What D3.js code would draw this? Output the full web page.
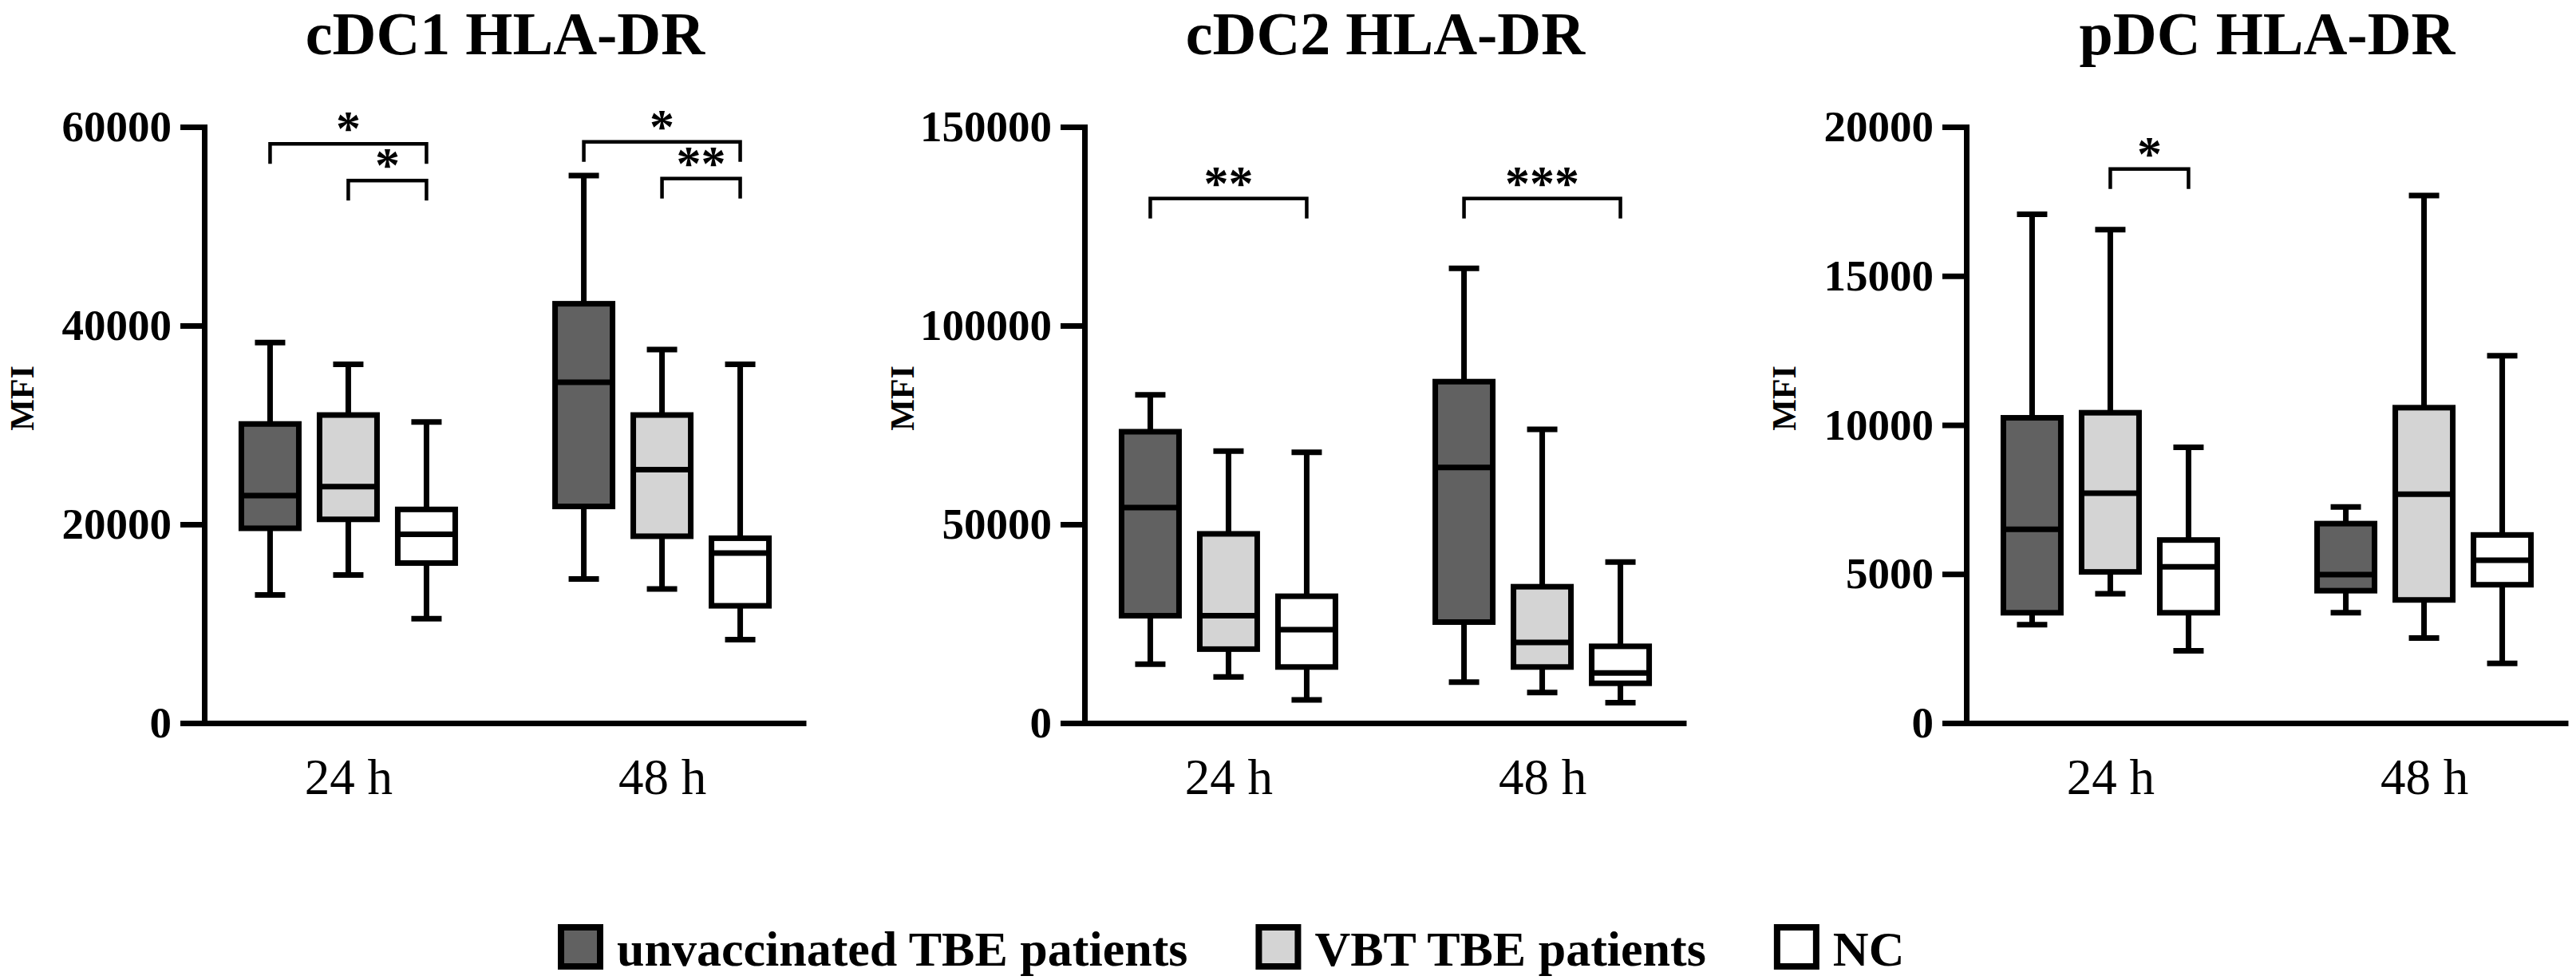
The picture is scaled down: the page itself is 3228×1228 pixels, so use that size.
<!DOCTYPE html>
<html>
<head>
<meta charset="utf-8">
<script src="https://cdn.jsdelivr.net/npm/d3@7"></script>
<style>
	body { margin: 0; background: #fff; }
	svg { display: block; }
</style>
</head>
<body>
<div id="chart"></div>
<script>

// chart data
var panelTitles = ["cDC1 HLA-DR", "cDC2 HLA-DR", "pDC HLA-DR"];
var timepoints = ["24 h", "48 h"];
var groups = ["unvaccinated TBE patients", "VBT TBE patients", "NC"];
var yMaxes = [60000, 150000, 20000];
var yTicks = [
	[0, 20000, 40000, 60000],
	[0, 50000, 100000, 150000],
	[0, 5000, 10000, 15000, 20000]
];

// [min, q1, median, q3, max] per timepoint, per group
var cdc1Stats = [
	[[12900, 19600, 22900, 30100, 38300], [14900, 20500, 23800, 31000, 36100], [10500, 16100, 19000, 21500, 30300]],
	[[14500, 21800, 34300, 42200, 55100], [13500, 18800, 25500, 31000, 37600], [8400, 11800, 17100, 18600, 36100]]
];
var cdc2Stats = [
	[[14800, 27000, 54200, 73300, 82600], [11600, 18600, 27000, 47600, 68400], [5800, 14100, 23500, 31900, 68100]],
	[[10300, 25400, 64300, 85900, 114400], [7700, 14100, 20300, 34300, 73900], [5100, 10000, 12600, 19300, 40500]]
];
var pdcStats = [
	[[3300, 3700, 6500, 10240, 17070], [4340, 5070, 7710, 10410, 16550], [2420, 3700, 5240, 6140, 9250]],
	[[3700, 4440, 4980, 6690, 7250], [2850, 4130, 7680, 10580, 17700], [2000, 4640, 5460, 6310, 12320]]
];
var panelStats = [cdc1Stats, cdc2Stats, pdcStats];

// significance brackets: panel, timepoint, from group, to group, height, label
var brackets = [
	[0, 0, 0, 2, 58300, "*"],
	[0, 0, 1, 2, 54600, "*"],
	[0, 1, 0, 2, 58500, "*"],
	[0, 1, 1, 2, 54800, "**"],
	[1, 0, 0, 2, 132000, "**"],
	[1, 1, 0, 2, 132000, "***"],
	[2, 0, 1, 2, 18590, "*"]
];

var fills = ["#616161", "#d4d4d4", "#ffffff"];
var font = "'Liberation Serif', 'Times New Roman', serif";

var width = 3228, height = 1228;
var axisLefts = [256, 1359, 2464];
var plotWidth = 754;
var yTop = 159, yBottom = 906;
var boxWidth = 72, capWidth = 38, lineW = 7;

var svg = d3.select("#chart").append("svg")
	.attr("width", width)
	.attr("height", height);

panelTitles.forEach(function(title, p){

	var x0 = axisLefts[p];
	var g = svg.append("g");

	var y = d3.scaleLinear()
		.domain([0, yMaxes[p]])
		.range([yBottom, yTop]);

	var x = d3.scalePoint()
		.domain(timepoints)
		.range([x0, x0 + plotWidth])
		.padding(0.459);

	var inner = d3.scalePoint()
		.domain(groups)
		.range([-98, 98]);

	// title
	g.append("text")
		.attr("x", x0 + plotWidth / 2)
		.attr("y", 68)
		.attr("font-family", font)
		.attr("font-weight", "bold")
		.attr("font-size", 76)
		.style("text-anchor", "middle")
		.text(title);

	// y axis label
	g.append("text")
		.attr("transform", "translate(" + (x0 - 214) + "," + 499 + ") rotate(-90)")
		.attr("font-family", font)
		.attr("font-weight", "bold")
		.attr("font-size", 42)
		.style("text-anchor", "middle")
		.text("MFI");

	// boxes
	timepoints.forEach(function(t, ti){
		groups.forEach(function(grp, gi){
			var s = panelStats[p][ti][gi];
			var cx = x(t) + inner(grp);
			var bg = g.append("g");

			// whiskers
			bg.append("line")
				.attr("x1", cx).attr("x2", cx)
				.attr("y1", y(s[3])).attr("y2", y(s[4]))
				.attr("stroke", "#000").attr("stroke-width", lineW);
			bg.append("line")
				.attr("x1", cx).attr("x2", cx)
				.attr("y1", y(s[1])).attr("y2", y(s[0]))
				.attr("stroke", "#000").attr("stroke-width", lineW);
			bg.append("line")
				.attr("x1", cx - capWidth / 2).attr("x2", cx + capWidth / 2)
				.attr("y1", y(s[4])).attr("y2", y(s[4]))
				.attr("stroke", "#000").attr("stroke-width", lineW);
			bg.append("line")
				.attr("x1", cx - capWidth / 2).attr("x2", cx + capWidth / 2)
				.attr("y1", y(s[0])).attr("y2", y(s[0]))
				.attr("stroke", "#000").attr("stroke-width", lineW);

			// box and median
			bg.append("rect")
				.attr("x", cx - boxWidth / 2)
				.attr("y", y(s[3]))
				.attr("width", boxWidth)
				.attr("height", y(s[1]) - y(s[3]))
				.attr("fill", fills[gi])
				.attr("stroke", "#000")
				.attr("stroke-width", lineW);
			bg.append("line")
				.attr("x1", cx - boxWidth / 2).attr("x2", cx + boxWidth / 2)
				.attr("y1", y(s[2])).attr("y2", y(s[2]))
				.attr("stroke", "#000").attr("stroke-width", lineW);
		});
	});

	// significance brackets
	brackets.filter(function(b){ return b[0] === p; }).forEach(function(b){
		var bx1 = x(timepoints[b[1]]) + inner(groups[b[2]]);
		var bx2 = x(timepoints[b[1]]) + inner(groups[b[3]]);
		var by = y(b[4]);
		g.append("path")
			.attr("d", "M" + bx1 + "," + (by + 25) + "V" + by + "H" + bx2 + "V" + (by + 25))
			.attr("fill", "none")
			.attr("stroke", "#000")
			.attr("stroke-width", 4.5);
		g.append("text")
			.attr("x", (bx1 + bx2) / 2)
			.attr("y", by + 1)
			.attr("font-family", font)
			.attr("font-weight", "bold")
			.attr("font-size", 62)
			.style("text-anchor", "middle")
			.text(b[5]);
	});

	// axes
	var yAxis = g.append("g")
		.attr("transform", "translate(" + x0 + ",0)")
		.call(d3.axisLeft(y).tickValues(yTicks[p]).tickSize(30).tickSizeOuter(0).tickPadding(11).tickFormat(d3.format("d")));
	yAxis.selectAll("path, line").attr("stroke", "#000").attr("stroke-width", lineW);
	yAxis.select(".domain").attr("stroke-linecap", "square");
	yAxis.selectAll("text")
		.style("font-family", font)
		.style("font-weight", "bold")
		.style("font-size", "55px")
		.attr("fill", "#000");

	var xAxis = g.append("g")
		.attr("transform", "translate(0," + yBottom + ")")
		.call(d3.axisBottom(x).tickSize(0).tickSizeOuter(0).tickPadding(44));
	xAxis.select(".domain").attr("stroke", "#000").attr("stroke-width", lineW);
	xAxis.selectAll("text")
		.style("font-family", font)
		.style("font-size", "63px")
		.attr("fill", "#000");
});

// legend
var legendX = 699;
var legend = svg.append("g");
groups.forEach(function(grp, gi){
	var item = legend.append("g").attr("transform", "translate(" + legendX + ",1158)");
	item.append("rect")
		.attr("x", 4).attr("y", 4)
		.attr("width", 49).attr("height", 49)
		.attr("fill", fills[gi])
		.attr("stroke", "#000")
		.attr("stroke-width", 8);
	var label = item.append("text")
		.attr("x", 74)
		.attr("y", 52)
		.attr("font-family", font)
		.attr("font-weight", "bold")
		.attr("font-size", 62)
		.text(grp);
	legendX += 74 + label.node().getComputedTextLength() + 85;
});

</script>
</body>
</html>
